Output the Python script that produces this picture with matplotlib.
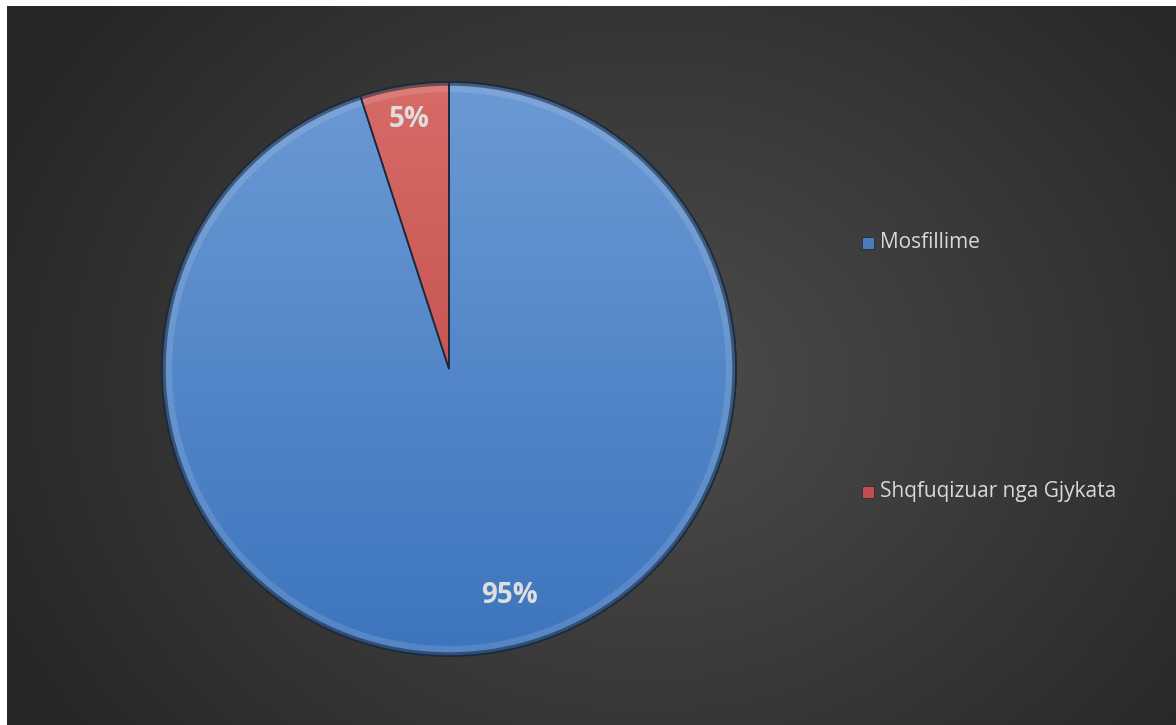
import numpy as np
import matplotlib
matplotlib.use("Agg")
import matplotlib.pyplot as plt
from matplotlib.patches import Rectangle, Wedge
from matplotlib.colors import LinearSegmentedColormap

plt.rcParams['font.family'] = ['Open Sans', 'DejaVu Sans']

# data
categories = ["Mosfillime", "Shqfuqizuar nga Gjykata"]
shares = [95, 5]
top_colors = ["#6b99d4", "#d76b67"]
bottom_colors = ["#3d75bd", "#b8423f"]
legend_colors = ["#4a7cbd", "#c0504d"]

fig = plt.figure(figsize=(11.76, 7.25), dpi=100)
fig.patch.set_facecolor("white")

# dark radial background
bg = fig.add_axes([7 / 1176, 0, 1 - 7 / 1176, 1 - 6 / 725])
bg.set_axis_off()
yy, xx = np.mgrid[0:720, 0:1169]
d = np.sqrt(((xx - 640) / 720.0) ** 2 + ((yy - 380) / 600.0) ** 2)
shade = np.clip(1 - d, 0, 1)
val = 0.15 + 0.15 * shade
img = np.dstack([val, val, val])
bg.imshow(img, aspect="auto", extent=[0, 1, 0, 1])
bg.set_xlim(0, 1)
bg.set_ylim(0, 1)

# pie
W, H = 1176, 725
cx, cy, r = 449, 725 - 369, 287
half = 300
ax = fig.add_axes([(cx - half) / W, (cy - half) / H, 2 * half / W, 2 * half / H])

wedges, texts, autotexts = ax.pie(
    shares, startangle=90, counterclock=False, radius=1,
    colors=legend_colors, autopct="%1.0f%%", pctdistance=0.86,
    wedgeprops=dict(edgecolor="#1b2a3d", linewidth=1.2),
    textprops=dict(color="#dedede", fontsize=20, fontweight="bold"),
)
lim = half / r

# vertical gradient fill clipped to each wedge
for w, c1, c2 in zip(wedges, top_colors, bottom_colors):
    cmap = LinearSegmentedColormap.from_list("g", [c2, c1])
    grad = np.linspace(0, 1, 256).reshape(-1, 1)
    im = ax.imshow(grad, cmap=cmap, extent=[-1, 1, -1, 1], origin="lower",
                   aspect="auto", zorder=1.5)
    im.set_clip_path(w)
    w.set_zorder(1)
    # bevel ring on the rim
    ring = Wedge(w.center, 1.0, w.theta1, w.theta2, width=0.035,
                 facecolor="white", alpha=0.12, edgecolor="none", zorder=1.6)
    ax.add_patch(ring)
    ring2 = Wedge(w.center, 1.0, w.theta1, w.theta2, width=0.013,
                  facecolor="#0d1a2a", alpha=0.5, edgecolor="none", zorder=1.7)
    ax.add_patch(ring2)
    outline = Wedge(w.center, 1.0, w.theta1, w.theta2, facecolor="none",
                    edgecolor="#1b2a3d", linewidth=1.2, zorder=1.8)
    ax.add_patch(outline)

ax.set_xlim(-lim, lim)
ax.set_ylim(-lim, lim)
ax.set_axis_off()

for t in autotexts:
    t.set_zorder(3)
autotexts[0].set_position((0.21, -0.79))
mid = np.deg2rad((wedges[1].theta1 + wedges[1].theta2) / 2)
autotexts[1].set_position((0.88 * np.cos(mid), 0.88 * np.sin(mid)))

# legend
for i, (lab, col) in enumerate(zip(categories, legend_colors)):
    ly = [243, 492][i]
    fig.patches.append(Rectangle(((862) / W, (H - ly - 6) / H), 12 / W, 12 / H,
                                 transform=fig.transFigure, facecolor=col,
                                 edgecolor="#222222", linewidth=0.5))
    fig.text(880 / W, (H - ly) / H, lab, color="#d9d9d9", fontsize=15,
             va="center", ha="left")

fig.savefig("out.png", dpi=100, facecolor=fig.get_facecolor())
